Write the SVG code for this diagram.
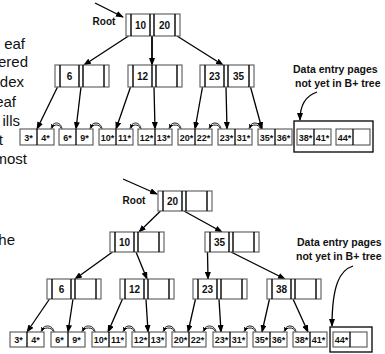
<svg xmlns="http://www.w3.org/2000/svg" width="385" height="354" viewBox="0 0 385 354">
<style>
text{font-family:"Liberation Sans",Arial,sans-serif}
.nb{fill:#fff;stroke:#666;stroke-width:1.2}
.nd{fill:none;stroke:#000;stroke-width:1.4}
.lb{fill:#fff;stroke:#555;stroke-width:1.1}
.ld{fill:none;stroke:#000;stroke-width:1.3}
.k{font-size:10px;font-weight:bold;text-anchor:middle;fill:#111}
.lt{font-size:9px;font-weight:bold;text-anchor:middle;fill:#111}
.side{font-size:15px;text-anchor:end;fill:#111}
.lbl{font-size:10.5px;font-weight:bold;fill:#111}
.ar{fill:none;stroke:#000;stroke-width:1.3;marker-end:url(#ah)}
.sl{fill:none;stroke:#000;stroke-width:0.9;marker-end:url(#sh)}
.box{fill:none;stroke:#000;stroke-width:1.3}
</style>
<defs>
<marker id="ah" markerUnits="userSpaceOnUse" markerWidth="8" markerHeight="6" refX="7" refY="3" orient="auto"><path d="M0,0L8,3L0,6z" fill="#000"/></marker>
<marker id="sh" markerUnits="userSpaceOnUse" markerWidth="4" markerHeight="4" refX="3.5" refY="2" orient="auto"><path d="M0,0L4,2L0,4z" fill="#000"/></marker>
</defs>
<g id="side-text">
<text class="side" x="25" y="48.5">eaf</text>
<text class="side" x="28" y="67">ered</text>
<text class="side" x="24" y="87">dex</text>
<text class="side" x="16" y="107">eaf</text>
<text class="side" x="20" y="126">ills</text>
<text class="side" x="3" y="145">t</text>
<text class="side" x="27" y="164">most</text>
<text class="side" x="15" y="245">he</text>
</g>
<g id="labels">
<text class="k" x="104" y="25">Root</text>
<text class="k" x="134" y="204">Root</text>
<text class="lbl" x="293" y="73">Data entry pages</text>
<text class="lbl" x="295" y="87">not yet in B+ tree</text>
<text class="lbl" x="297" y="246">Data entry pages</text>
<text class="lbl" x="296" y="260">not yet in B+ tree</text>
</g>
<g id="connectors">
<path class="ar" d="M95,3L123,17"/>
<path class="ar" d="M128.5,36L84,65"/>
<path class="ar" d="M152,36L152,65" style="stroke-width:1.8"/>
<path class="ar" d="M177,36L223,65"/>
<path class="ar" d="M57.5,87L37,129"/>
<path class="ar" d="M81,87L76,129"/>
<path class="ar" d="M130.5,87L116,129"/>
<path class="ar" d="M154,87L155,129"/>
<path class="ar" d="M202.5,87L195,129"/>
<path class="ar" d="M226,87L227,129"/>
<path class="ar" d="M250.5,87L262,129"/>
<path class="ar" d="M317,92C305,96 300,106 300,120"/>
<path class="ar" d="M123,179L157,194"/>
<path class="ar" d="M160.5,211L139,232"/>
<path class="ar" d="M184,211L222,232"/>
<path class="ar" d="M112.5,252L75,279"/>
<path class="ar" d="M136,252L147,279"/>
<path class="ar" d="M207.5,252L208,279"/>
<path class="ar" d="M231,252L285,279"/>
<path class="ar" d="M49.5,299L27,332"/>
<path class="ar" d="M73,299L68,332"/>
<path class="ar" d="M122.5,299L108,332"/>
<path class="ar" d="M146,299L148,332"/>
<path class="ar" d="M195.5,299L188,332"/>
<path class="ar" d="M219,299L221,332"/>
<path class="ar" d="M269.5,299L262,332"/>
<path class="ar" d="M293,299L308,332"/>
<path class="ar" d="M353,266C340,270 332,285 332,326"/>
<path class="sl" d="M51,129C52,121 61,121 62,129M61,128C60,124 53,124 52,128"/>
<path class="sl" d="M90,129C91,121 101,121 102,129M101,128C100,124 92,124 91,128"/>
<path class="sl" d="M130,129C131,121 140,121 141,129M140,128C139,124 132,124 131,128"/>
<path class="sl" d="M169,129C170,121 180,121 181,129M180,128C179,124 171,124 170,128"/>
<path class="sl" d="M209,129C210,121 220,121 221,129M220,128C219,124 211,124 210,128"/>
<path class="sl" d="M249,129C250,121 260,121 261,129M260,128C259,124 251,124 250,128"/>
<path class="sl" d="M41,332C42,324 53,324 54,332M53,331C52,327 43,327 42,331"/>
<path class="sl" d="M82,332C83,324 94,324 95,332M94,331C93,327 84,327 83,331"/>
<path class="sl" d="M123,332C124,324 134,324 135,332M134,331C133,327 125,327 124,331"/>
<path class="sl" d="M163,332C164,324 174,324 175,332M174,331C173,327 165,327 164,331"/>
<path class="sl" d="M203,332C204,324 215,324 216,332M215,331C214,327 205,327 204,331"/>
<path class="sl" d="M244,332C245,324 255,324 256,332M255,331C254,327 246,327 245,331"/>
<path class="sl" d="M284,332C285,324 295,324 296,332M295,331C294,327 286,327 285,331"/>
</g>
<rect id="data-box-top" class="box" x="294" y="121" width="79" height="31"/>
<rect id="data-box-bottom" class="box" x="330" y="327" width="42" height="25"/>
<g id="t-root" transform="translate(126,14)"><rect class="nb" width="54" height="22"/><path class="nd" d="M5,0V22M24,0V22M28,0V22M49,0V22"/><text class="k" x="14.5" y="14.6">10</text><text class="k" x="38.5" y="14.6">20</text></g>
<g id="t-n6" transform="translate(55,65)"><rect class="nb" width="54" height="22"/><path class="nd" d="M5,0V22M24,0V22M28,0V22M49,0V22"/><text class="k" x="14.5" y="14.6">6</text></g>
<g id="t-n12" transform="translate(128,65)"><rect class="nb" width="54" height="22"/><path class="nd" d="M5,0V22M24,0V22M28,0V22M49,0V22"/><text class="k" x="14.5" y="14.6">12</text></g>
<g id="t-n23" transform="translate(200,65)"><rect class="nb" width="54" height="22"/><path class="nd" d="M5,0V22M24,0V22M28,0V22M49,0V22"/><text class="k" x="14.5" y="14.6">23</text><text class="k" x="38.5" y="14.6">35</text></g>
<g id="t-l1" transform="translate(20,129)"><rect class="lb" width="34" height="16"/><path class="ld" d="M17,0V16"/><text class="lt" x="8.5" y="11.5">3*</text><text class="lt" x="25.5" y="11.5">4*</text></g>
<g id="t-l2" transform="translate(59,129)"><rect class="lb" width="34" height="16"/><path class="ld" d="M17,0V16"/><text class="lt" x="8.5" y="11.5">6*</text><text class="lt" x="25.5" y="11.5">9*</text></g>
<g id="t-l3" transform="translate(99,129)"><rect class="lb" width="34" height="16"/><path class="ld" d="M17,0V16"/><text class="lt" x="8.5" y="11.5">10*</text><text class="lt" x="25.5" y="11.5">11*</text></g>
<g id="t-l4" transform="translate(138,129)"><rect class="lb" width="34" height="16"/><path class="ld" d="M17,0V16"/><text class="lt" x="8.5" y="11.5">12*</text><text class="lt" x="25.5" y="11.5">13*</text></g>
<g id="t-l5" transform="translate(178,129)"><rect class="lb" width="34" height="16"/><path class="ld" d="M17,0V16"/><text class="lt" x="8.5" y="11.5">20*</text><text class="lt" x="25.5" y="11.5">22*</text></g>
<g id="t-l6" transform="translate(218,129)"><rect class="lb" width="34" height="16"/><path class="ld" d="M17,0V16"/><text class="lt" x="8.5" y="11.5">23*</text><text class="lt" x="25.5" y="11.5">31*</text></g>
<g id="t-l7" transform="translate(258,129)"><rect class="lb" width="34" height="16"/><path class="ld" d="M17,0V16"/><text class="lt" x="8.5" y="11.5">35*</text><text class="lt" x="25.5" y="11.5">36*</text></g>
<g id="t-l8" transform="translate(297,129)"><rect class="lb" width="34" height="16"/><path class="ld" d="M17,0V16"/><text class="lt" x="8.5" y="11.5">38*</text><text class="lt" x="25.5" y="11.5">41*</text></g>
<g id="t-l9" transform="translate(336,129)"><rect class="lb" width="34" height="16"/><path class="ld" d="M17,0V16"/><text class="lt" x="8.5" y="11.5">44*</text></g>
<g id="b-root" transform="translate(158,191)"><rect class="nb" width="54" height="20"/><path class="nd" d="M5,0V20M24,0V20M28,0V20M49,0V20"/><text class="k" x="14.5" y="13.6">20</text></g>
<g id="b-n10" transform="translate(110,232)"><rect class="nb" width="54" height="20"/><path class="nd" d="M5,0V20M24,0V20M28,0V20M49,0V20"/><text class="k" x="14.5" y="13.6">10</text></g>
<g id="b-n35" transform="translate(205,232)"><rect class="nb" width="54" height="20"/><path class="nd" d="M5,0V20M24,0V20M28,0V20M49,0V20"/><text class="k" x="14.5" y="13.6">35</text></g>
<g id="b-n6" transform="translate(47,279)"><rect class="nb" width="54" height="20"/><path class="nd" d="M5,0V20M24,0V20M28,0V20M49,0V20"/><text class="k" x="14.5" y="13.6">6</text></g>
<g id="b-n12" transform="translate(120,279)"><rect class="nb" width="54" height="20"/><path class="nd" d="M5,0V20M24,0V20M28,0V20M49,0V20"/><text class="k" x="14.5" y="13.6">12</text></g>
<g id="b-n23" transform="translate(193,279)"><rect class="nb" width="54" height="20"/><path class="nd" d="M5,0V20M24,0V20M28,0V20M49,0V20"/><text class="k" x="14.5" y="13.6">23</text></g>
<g id="b-n38" transform="translate(267,279)"><rect class="nb" width="54" height="20"/><path class="nd" d="M5,0V20M24,0V20M28,0V20M49,0V20"/><text class="k" x="14.5" y="13.6">38</text></g>
<g id="b-l1" transform="translate(10,332)"><rect class="lb" width="34" height="15"/><path class="ld" d="M17,0V15"/><text class="lt" x="8.5" y="11">3*</text><text class="lt" x="25.5" y="11">4*</text></g>
<g id="b-l2" transform="translate(51,332)"><rect class="lb" width="34" height="15"/><path class="ld" d="M17,0V15"/><text class="lt" x="8.5" y="11">6*</text><text class="lt" x="25.5" y="11">9*</text></g>
<g id="b-l3" transform="translate(92,332)"><rect class="lb" width="34" height="15"/><path class="ld" d="M17,0V15"/><text class="lt" x="8.5" y="11">10*</text><text class="lt" x="25.5" y="11">11*</text></g>
<g id="b-l4" transform="translate(132,332)"><rect class="lb" width="34" height="15"/><path class="ld" d="M17,0V15"/><text class="lt" x="8.5" y="11">12*</text><text class="lt" x="25.5" y="11">13*</text></g>
<g id="b-l5" transform="translate(172,332)"><rect class="lb" width="34" height="15"/><path class="ld" d="M17,0V15"/><text class="lt" x="8.5" y="11">20*</text><text class="lt" x="25.5" y="11">22*</text></g>
<g id="b-l6" transform="translate(213,332)"><rect class="lb" width="34" height="15"/><path class="ld" d="M17,0V15"/><text class="lt" x="8.5" y="11">23*</text><text class="lt" x="25.5" y="11">31*</text></g>
<g id="b-l7" transform="translate(253,332)"><rect class="lb" width="34" height="15"/><path class="ld" d="M17,0V15"/><text class="lt" x="8.5" y="11">35*</text><text class="lt" x="25.5" y="11">36*</text></g>
<g id="b-l8" transform="translate(293,332)"><rect class="lb" width="34" height="15"/><path class="ld" d="M17,0V15"/><text class="lt" x="8.5" y="11">38*</text><text class="lt" x="25.5" y="11">41*</text></g>
<g id="b-l9" transform="translate(333,332)"><rect class="lb" width="34" height="15"/><path class="ld" d="M17,0V15"/><text class="lt" x="8.5" y="11">44*</text></g>
</svg>
